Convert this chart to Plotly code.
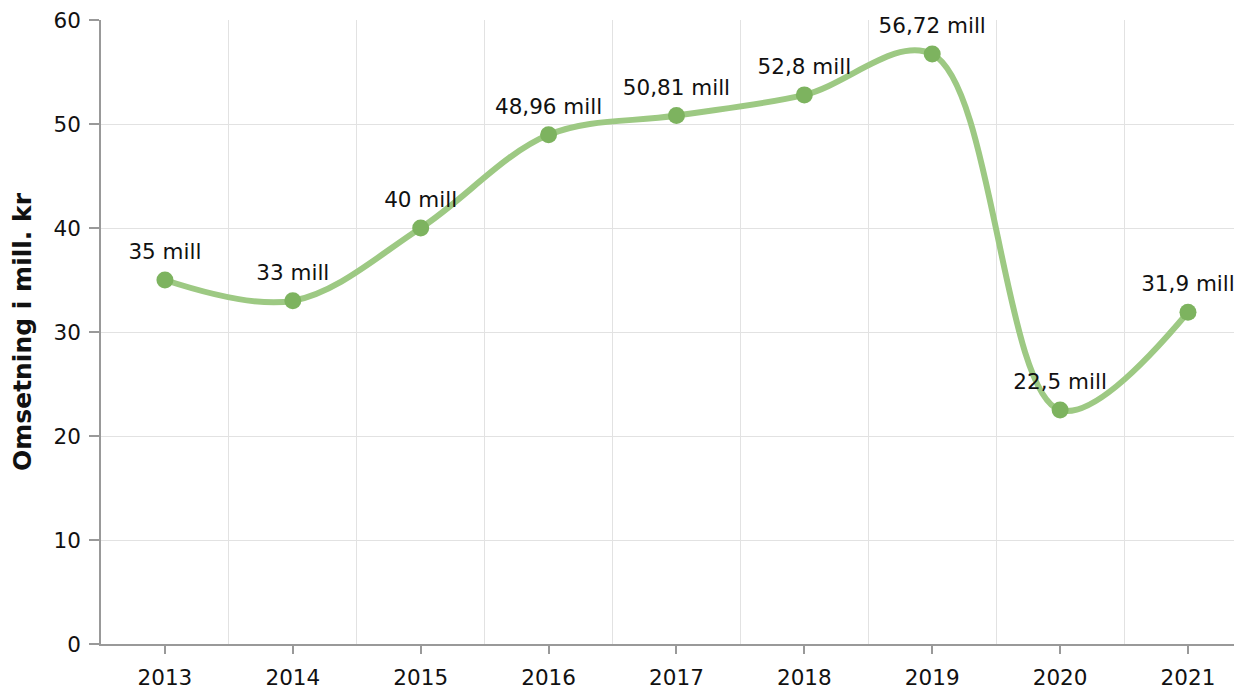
import plotly.graph_objects as go

years = ["2013", "2014", "2015", "2016", "2017", "2018", "2019", "2020", "2021"]
values = [35, 33, 40, 48.96, 50.81, 52.8, 56.72, 22.5, 31.9]
labels = ["35 mill", "33 mill", "40 mill", "48,96 mill", "50,81 mill",
          "52,8 mill", "56,72 mill", "22,5 mill", "31,9 mill"]
y_title = "Omsetning i mill. kr"

xpos = list(range(len(years)))

fig = go.Figure()
fig.add_trace(go.Scatter(
    x=xpos, y=values,
    mode="lines",
    line=dict(color="#9dc983", width=6, shape="spline", smoothing=1.0),
    hoverinfo="skip",
    showlegend=False,
))
fig.add_trace(go.Scatter(
    x=xpos, y=values,
    mode="markers",
    marker=dict(color="#7db35f", size=17),
    cliponaxis=False,
    showlegend=False,
))
fig.add_trace(go.Scatter(
    x=xpos, y=values,
    mode="markers+text",
    marker=dict(color="rgba(0,0,0,0)", size=23),
    text=labels,
    textposition="top center",
    textfont=dict(family="DejaVu Sans", size=21.5, color="#111111"),
    cliponaxis=False,
    hoverinfo="skip",
    showlegend=False,
))

fig.update_layout(
    width=1242, height=682,
    margin=dict(l=93, r=0, t=12, b=46),
    paper_bgcolor="white", plot_bgcolor="white",
    font=dict(family="DejaVu Sans", size=21.5, color="#111111"),
    xaxis=dict(
        range=[-0.5, 8.485],
        tickvals=xpos, ticktext=years,
        showgrid=False, zeroline=False,
        ticks="outside", ticklen=8, tickcolor="#999999", tickwidth=1.5,
        showline=True, linecolor="#999999", linewidth=1.5,
        ticklabelstandoff=5, ticklabeloverflow="allow",
        minor=dict(tickvals=[i + 0.5 for i in range(len(years) - 1)],
                   showgrid=True, gridcolor="#e2e2e2", gridwidth=1, ticks=""),
        tickfont=dict(size=21.5),
        automargin=False,
    ),
    yaxis=dict(
        range=[0, 60], dtick=10,
        showgrid=True, gridcolor="#e2e2e2", gridwidth=1, zeroline=False,
        ticks="outside", ticklen=10, tickcolor="#999999", tickwidth=1.5,
        showline=True, linecolor="#999999", linewidth=1.5,
        ticklabelstandoff=4, ticklabeloverflow="allow",
        tickfont=dict(size=21.5),
        automargin=False,
        title=dict(text="<b>" + y_title + "</b>", font=dict(size=25), standoff=26),
    ),
)

fig.write_html("out.html")
